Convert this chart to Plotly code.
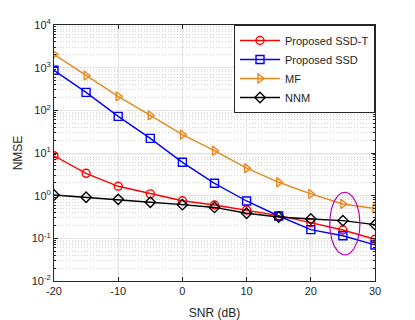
import numpy as np
import plotly.graph_objects as go

snr = [-20, -15, -10, -5, 0, 5, 10, 15, 20, 25, 30]
ssd_t = [8.6, 3.34, 1.66, 1.1, 0.76, 0.605, 0.46, 0.34, 0.233, 0.157, 0.095]
ssd = [867, 264, 72, 22, 6.05, 1.95, 0.75, 0.334, 0.16, 0.115, 0.070]
mf = [2050, 650, 213, 76, 27, 11.3, 4.4, 2.06, 1.1, 0.64, 0.50]
nnm = [1.04, 0.92, 0.82, 0.70, 0.615, 0.53, 0.386, 0.316, 0.284, 0.26, 0.209]

names = ["Proposed SSD-T", "Proposed SSD", "MF", "NNM"]
colors = ["#FF0000", "#0000FF", "#E8871E", "#000000"]
symbols = ["circle-open", "square-open", "triangle-right-open", "diamond-open"]
series = [ssd_t, ssd, mf, nnm]

ytick_exp = [-2, -1, 0, 1, 2, 3, 4]
xticks = [-20, -10, 0, 10, 20, 30]

# ellipse annotation (center in dB / log10 units, radii)
ell_cx, ell_cy, ell_rx, ell_ry = 25.3, -0.655, 2.35, 0.735

fig = go.Figure()
for n, c, s, v in zip(names, colors, symbols, series):
    fig.add_trace(go.Scatter(
        x=snr, y=v, name=n, mode="lines+markers",
        line=dict(color=c, width=1.4),
        marker=dict(symbol=s, size=8, color=c, line=dict(color=c, width=1.4)),
    ))

t = np.linspace(0, 2 * np.pi, 200)
fig.add_trace(go.Scatter(
    x=ell_cx + ell_rx * np.cos(t), y=10 ** (ell_cy + ell_ry * np.sin(t)),
    mode="lines", line=dict(color="#BF00BF", width=1.2),
    showlegend=False, hoverinfo="skip",
))

minor_vals = [m * 10.0 ** e for e in range(-2, 4) for m in range(2, 10)]

FONT = "Liberation Sans, Arial, sans-serif"
axis_font = dict(family=FONT, size=11, color="#262626")
title_font = dict(family=FONT, size=12, color="#262626")

fig.update_layout(
    width=415, height=320,
    margin=dict(l=46, r=48, t=17, b=47, autoexpand=False),
    paper_bgcolor="white", plot_bgcolor="white",
    font=axis_font,
    showlegend=True,
    legend=dict(
        x=1, y=1, xanchor="right", yanchor="top",
        bgcolor="white", bordercolor="#262626", borderwidth=1,
        font=dict(family=FONT, size=11, color="#262626"),
        tracegroupgap=0, itemwidth=40,
    ),
)
fig.update_xaxes(
    range=[-20, 30], tickvals=xticks, ticktext=[str(v) for v in xticks],
    ticks="inside", ticklen=4, tickcolor="#262626", automargin=False,
    showline=True, linecolor="#262626", linewidth=1, mirror="ticks",
    showgrid=True, gridcolor="#E3E3E3", gridwidth=1, zeroline=False,
    tickfont=axis_font,
    title=dict(text="SNR (dB)", font=title_font, standoff=12),
)
fig.update_yaxes(
    type="log", range=[-2, 4],
    tickvals=[10.0 ** e for e in ytick_exp],
    ticktext=["10<sup>%d</sup>" % e for e in ytick_exp],
    ticks="inside", ticklen=4, tickcolor="#262626", automargin=False,
    showline=True, linecolor="#262626", linewidth=1, mirror="ticks",
    showgrid=True, gridcolor="#E3E3E3", gridwidth=1, zeroline=False,
    tickfont=axis_font,
    minor=dict(tickvals=minor_vals, ticks="inside", ticklen=2, tickcolor="#262626",
               showgrid=True, gridcolor="#D6D6D6", griddash="1px,2px", gridwidth=1),
    title=dict(text="NMSE", font=title_font, standoff=6),
)

fig.write_html("out.html")
